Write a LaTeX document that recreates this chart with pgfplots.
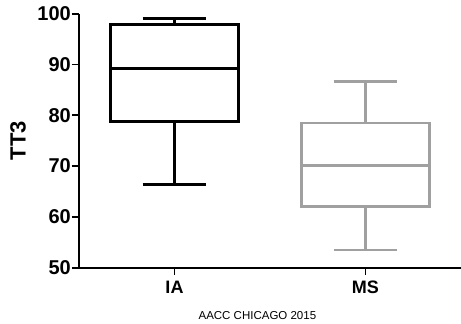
\documentclass[border=0pt]{standalone}
\usepackage{fontspec}
\setmainfont{Liberation Sans}
\usepackage{pgfplots}
\pgfplotsset{compat=1.18}
\usepgfplotslibrary{statistics}
\definecolor{msgray}{RGB}{160,160,160}
\begin{document}
\begin{tikzpicture}
\path[use as bounding box] (-79pt,-56.3pt) rectangle (382pt,267.7pt);
\begin{axis}[
  scale only axis,
  width=382pt, height=254pt,
  xmin=-0.5, xmax=1.5,
  ymin=50, ymax=100,
  ytick={50,60,70,80,90,100},
  xtick={0,1},
  xticklabels={IA,MS},
  axis lines*=left,
  axis line style={line width=2pt, black},
  tick align=outside,
  major tick length=7pt,
  tick style={line width=1.8pt, black},
  /pgf/number format/assume math mode=true,
  yticklabel style={inner sep=1pt, font=\fontsize{20}{22}\selectfont\bfseries},
  xticklabel style={inner sep=2pt, yshift=-4pt, font=\fontsize{18}{20}\selectfont\bfseries},
  ylabel={TT3},
  ylabel style={at={(axis description cs:0,0.5)}, anchor=center, yshift=61pt, font=\fontsize{22}{24}\selectfont\bfseries},
  clip=false,
  boxplot/draw direction=y,
]
\addplot+[black, line width=3pt, solid, mark=none,
  boxplot prepared={median=89.3, upper quartile=97.8, lower quartile=78.7,
    upper whisker=99.0, lower whisker=66.3, draw position=0,
    box extend=0.667, whisker extend=0.333}]
  coordinates {};
\addplot+[msgray, line width=2.7pt, solid, mark=none,
  boxplot prepared={median=70.1, upper quartile=78.5, lower quartile=62.1,
    upper whisker=86.6, lower whisker=53.5, draw position=1,
    box extend=0.672, whisker extend=0.333}]
  coordinates {};
\node[font=\fontsize{11.5}{12}\selectfont, anchor=center] at (rel axis cs:0.467,0) [yshift=-47.8pt] {AACC CHICAGO 2015};
\end{axis}
\end{tikzpicture}
\end{document}
